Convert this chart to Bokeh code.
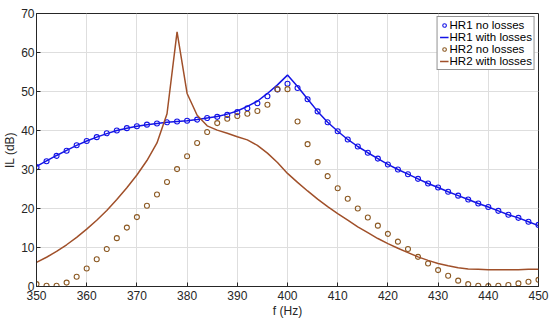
from bokeh.plotting import figure
from bokeh.models import Range1d, FixedTicker, Legend, LegendItem
from bokeh.embed import file_html
from bokeh.resources import INLINE

# Frequencies (Hz), 2 Hz step
freq = list(range(350, 451, 2))

hr1_no_losses = [30.6, 32.1, 33.5, 34.8, 36.2, 37.3, 38.3, 39.3, 40.0, 40.6,
                 41.1, 41.5, 41.8, 42.1, 42.3, 42.5, 42.8, 43.2, 43.5, 44.0,
                 44.7, 45.7, 47.0, 48.8, 50.5, 52.0, 50.9, 48.0, 44.9, 42.1,
                 39.8, 37.7, 35.9, 34.3, 32.8, 31.3, 30.0, 28.8, 27.6, 26.4,
                 25.4, 24.3, 23.3, 22.3, 21.3, 20.4, 19.4, 18.4, 17.6, 16.6, 15.8]

hr1_with_losses = [30.8, 32.2, 33.6, 34.9, 36.2, 37.3, 38.3, 39.2, 40.0, 40.6,
                   41.1, 41.5, 41.8, 42.1, 42.3, 42.5, 42.8, 43.2, 43.6, 44.2,
                   45.0, 46.2, 47.5, 49.5, 51.7, 54.2, 51.3, 48.1, 44.9, 42.1,
                   39.8, 37.7, 35.9, 34.3, 32.8, 31.3, 30.0, 28.8, 27.6, 26.4,
                   25.4, 24.3, 23.3, 22.3, 21.3, 20.4, 19.4, 18.4, 17.6, 16.6, 15.6]

hr2_no_losses = [0.6, 0.2, 0.2, 1.0, 2.5, 4.6, 7.0, 9.6, 12.4, 15.1,
                 17.8, 20.7, 23.6, 26.8, 30.1, 33.4, 36.8, 39.6, 41.9, 43.0,
                 43.7, 44.3, 45.0, 46.6, 50.6, 50.6, 42.3, 36.5, 31.9, 28.3,
                 25.2, 22.5, 20.0, 17.7, 15.6, 13.5, 11.5, 9.6, 7.6, 5.9,
                 4.2, 2.75, 1.5, 0.6, 0.2, 0.1, 0.2, 0.4, 0.8, 1.2, 1.7]

hr2_with_losses = [6.2, 7.5, 9.0, 10.7, 12.6, 14.7, 17.0, 19.5, 22.3, 25.3,
                   28.6, 32.3, 36.8, 44.3, 65.3, 49.5, 43.9, 41.2, 40.1, 39.3,
                   38.4, 37.6, 36.2, 34.2, 31.8, 29.0, 26.7, 24.5, 22.4, 20.5,
                   18.7, 17.0, 15.3, 13.8, 12.3, 11.0, 9.8, 8.7, 7.6, 6.7,
                   5.9, 5.3, 4.8, 4.5, 4.4, 4.3, 4.3, 4.3, 4.3, 4.4, 4.4]

x_ticks = list(range(350, 451, 10))
y_ticks = list(range(0, 71, 10))

BLUE = "#1414e6"
BROWN = "#a0502a"
MBROWN = "#8c5a24"
DARK = "#262626"
FONT = "Liberation Sans"

p = figure(width=550, height=320, x_range=Range1d(350, 450), y_range=Range1d(0, 70),
           output_backend="svg", toolbar_location=None,
           min_border_left=32, min_border_right=12, min_border_top=13, min_border_bottom=0)

p.background_fill_color = "white"
p.outline_line_color = DARK
p.outline_line_width = 1

for ax in (p.xaxis[0], p.yaxis[0]):
    ax.major_tick_in = 4
    ax.major_tick_out = 0
    ax.minor_tick_line_color = None
    ax.axis_line_color = DARK
    ax.major_tick_line_color = DARK
    ax.major_label_text_font = FONT
    ax.major_label_text_font_size = "12px"
    ax.major_label_text_color = DARK
    ax.axis_label_text_font = FONT
    ax.axis_label_text_font_size = "12px"
    ax.axis_label_text_font_style = "normal"
    ax.axis_label_text_color = DARK

p.xaxis.ticker = FixedTicker(ticks=x_ticks)
p.yaxis.ticker = FixedTicker(ticks=y_ticks)
p.xaxis.axis_label = "f (Hz)"
p.yaxis.axis_label = "IL (dB)"
p.xaxis.major_label_standoff = 4
p.xaxis.axis_label_standoff = 1
p.yaxis.major_label_standoff = 2
p.yaxis.axis_label_standoff = 1

p.xgrid.ticker = FixedTicker(ticks=x_ticks)
p.ygrid.ticker = FixedTicker(ticks=y_ticks)
p.grid.grid_line_color = "#dedede"
p.grid.grid_line_width = 1

r1 = p.scatter(freq, hr1_no_losses, marker="circle", size=5, fill_color=None,
               line_color=BLUE, line_width=1.1)
r2 = p.line(freq, hr1_with_losses, line_color=BLUE, line_width=1.5)
r3 = p.scatter(freq, hr2_no_losses, marker="circle", size=5, fill_color=None,
               line_color=MBROWN, line_width=1.1)
r4 = p.line(freq, hr2_with_losses, line_color=BROWN, line_width=1.5)

legend = Legend(items=[LegendItem(label="HR1 no losses", renderers=[r1]),
                       LegendItem(label="HR1 with losses", renderers=[r2]),
                       LegendItem(label="HR2 no losses", renderers=[r3]),
                       LegendItem(label="HR2 with losses", renderers=[r4])],
                location="top_right")
legend.label_text_font = FONT
legend.label_text_font_size = "11.5px"
legend.label_text_color = "black"
legend.label_height = 12
legend.glyph_height = 12
legend.glyph_width = 9
legend.label_standoff = 1
legend.spacing = 0
legend.padding = 2
legend.margin = 3
legend.border_line_color = DARK
legend.border_line_width = 1
legend.background_fill_alpha = 1
p.add_layout(legend)

open("out.html", "w").write(file_html(p, INLINE))
